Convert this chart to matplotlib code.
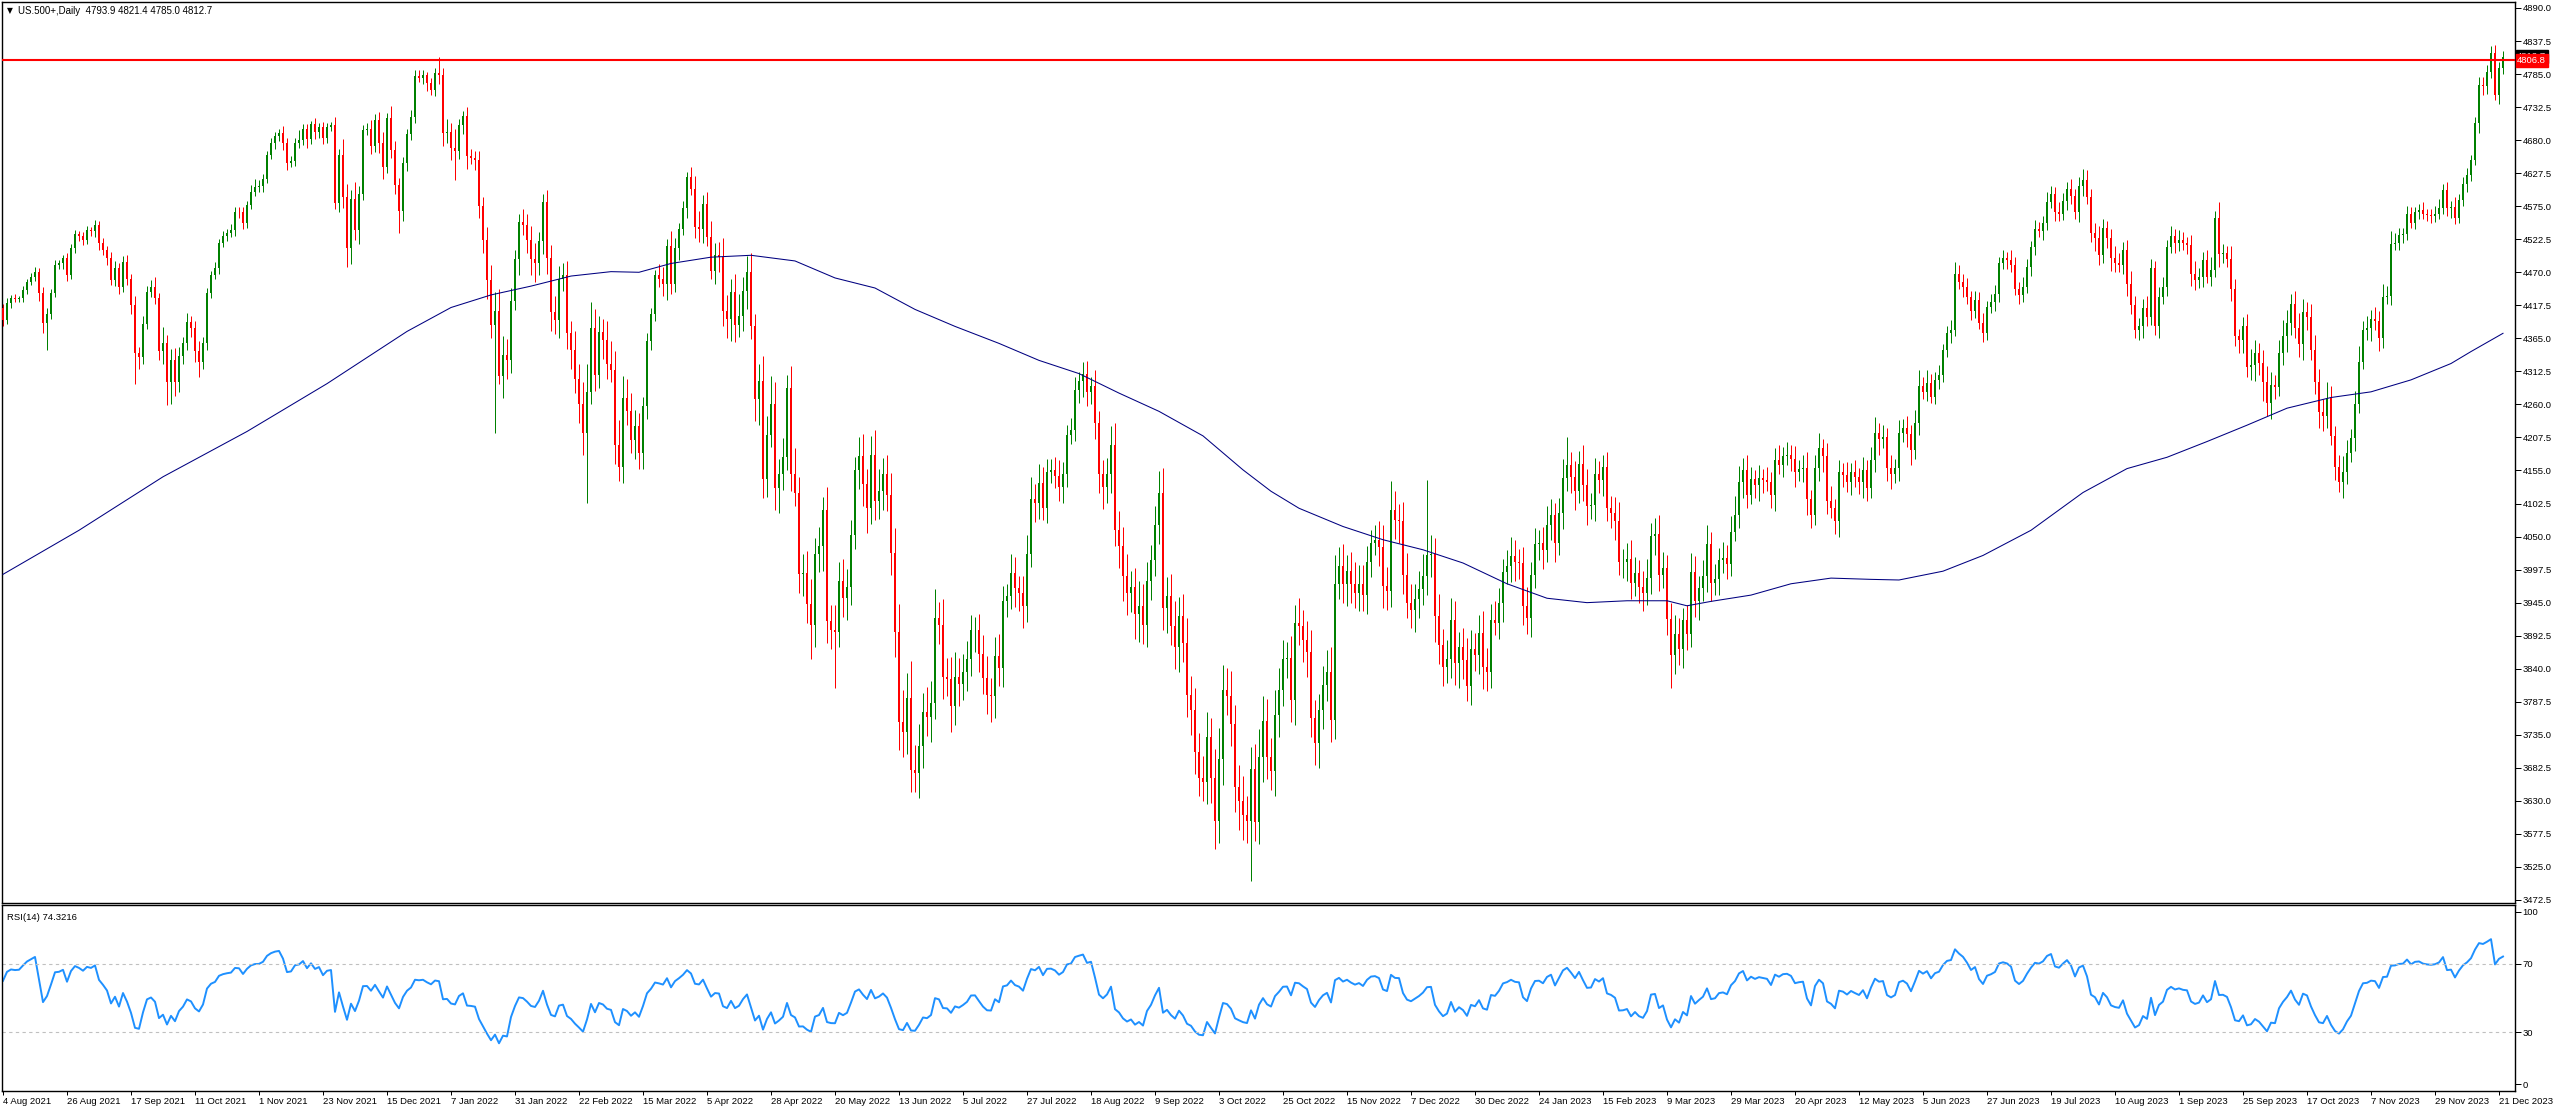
import numpy as np
import matplotlib.pyplot as plt
import matplotlib.transforms as mtrans

plt.rcParams['font.family'] = ['Liberation Sans', 'DejaVu Sans']

# daily closes, one per bar (4 Aug 2021 .. 22 Dec 2023)
closes = [
    4394, 4421, 4429, 4428, 4429, 4442, 4455, 4463, 4471, 4437, 4389, 4404, 4437, 4482, 4484, 4492, 4466, 4508, 4531, 4527,
    4521, 4537, 4535, 4545, 4516, 4505, 4492, 4458, 4476, 4447, 4487, 4460, 4418, 4342, 4336, 4388, 4439, 4447, 4429, 4345,
    4358, 4296, 4330, 4295, 4337, 4357, 4391, 4381, 4345, 4328, 4357, 4437, 4466, 4477, 4516, 4527, 4533, 4537, 4566, 4565,
    4548, 4577, 4598, 4606, 4607, 4619, 4656, 4675, 4686, 4691, 4675, 4644, 4647, 4676, 4680, 4697, 4682, 4705, 4693, 4701,
    4684, 4701, 4704, 4580, 4656, 4590, 4508, 4586, 4537, 4595, 4696, 4697, 4670, 4712, 4675, 4638, 4715, 4664, 4608, 4567,
    4643, 4690, 4716, 4782, 4779, 4783, 4770, 4760, 4786, 4783, 4691, 4693, 4667, 4662, 4704, 4718, 4654, 4652, 4648, 4575,
    4522, 4457, 4386, 4409, 4305, 4339, 4330, 4425, 4491, 4550, 4545, 4521, 4491, 4484, 4519, 4582, 4492, 4407, 4394, 4460,
    4466, 4373, 4346, 4300, 4260, 4214, 4280, 4382, 4306, 4375, 4362, 4325, 4315, 4195, 4160, 4270, 4250, 4203, 4226, 4183,
    4257, 4361, 4403, 4465, 4459, 4451, 4511, 4451, 4509, 4538, 4572, 4622, 4603, 4542, 4538, 4578, 4526, 4472, 4498, 4495,
    4409, 4395, 4439, 4387, 4401, 4441, 4471, 4384, 4268, 4297, 4141, 4212, 4260, 4127, 4149, 4176, 4286, 4150, 4120, 3991,
    3992, 3943, 3910, 4023, 4035, 4093, 3916, 3901, 3899, 3979, 3952, 3970, 4052, 4156, 4178, 4133, 4095, 4180, 4106, 4122,
    4150, 4116, 4024, 3898, 3756, 3740, 3793, 3679, 3675, 3717, 3771, 3763, 3785, 3921, 3910, 3827, 3824, 3780, 3827, 3816,
    3834, 3856, 3901, 3902, 3864, 3825, 3798, 3796, 3860, 3841, 3947, 3955, 3992, 3968, 3960, 3939, 4022, 4109, 4103, 4135,
    4096, 4153, 4155, 4147, 4129, 4149, 4212, 4220, 4283, 4297, 4309, 4280, 4289, 4230, 4149, 4129, 4150, 4196, 4060, 4035,
    3987, 3960, 3970, 3927, 3939, 3910, 3979, 4012, 4068, 4119, 3937, 3956, 3908, 3875, 3924, 3881, 3798, 3775, 3708, 3667,
    3660, 3731, 3667, 3598, 3696, 3806, 3796, 3752, 3652, 3629, 3608, 3598, 3680, 3596, 3700, 3757, 3700, 3678, 3766, 3806,
    3855, 3857, 3791, 3912, 3908, 3886, 3867, 3761, 3722, 3775, 3814, 3834, 3759, 3975, 4003, 3975, 3995, 3975, 3961, 3975,
    3957, 4010, 4040, 4044, 4034, 3972, 3963, 4093, 4076, 4075, 3989, 3945, 3934, 3950, 3966, 3987, 4021, 4023, 3923, 3878,
    3842, 3855, 3917, 3849, 3874, 3854, 3812, 3871, 3862, 3896, 3843, 3834, 3918, 3913, 3944, 3994, 4003, 4019, 4010, 4008,
    3940, 3920, 3989, 4038, 4040, 4029, 4069, 4084, 4040, 4087, 4143, 4164, 4145, 4123, 4166, 4132, 4098, 4100, 4150, 4140,
    4160, 4095, 4088, 4075, 4009, 4010, 4015, 3976, 3992, 3970, 3961, 3984, 4051, 4054, 3989, 4000, 3919, 3862, 3895, 3871,
    3917, 3895, 3994, 3947, 3968, 3987, 4038, 3977, 3982, 4012, 4016, 4007, 4058, 4084, 4137, 4155, 4116, 4141, 4132, 4143,
    4140, 4137, 4116, 4171, 4164, 4178, 4180, 4174, 4153, 4157, 4159, 4109, 4084, 4159, 4190, 4178, 4106, 4095, 4074, 4152,
    4148, 4136, 4152, 4144, 4137, 4156, 4127, 4172, 4215, 4205, 4208, 4159, 4150, 4159, 4215, 4222, 4213, 4188, 4231, 4289,
    4280, 4294, 4272, 4299, 4307, 4346, 4373, 4379, 4467, 4455, 4446, 4430, 4409, 4426, 4390, 4374, 4415, 4423, 4435, 4485,
    4493, 4490, 4482, 4444, 4434, 4447, 4479, 4510, 4538, 4536, 4549, 4582, 4595, 4566, 4563, 4584, 4603, 4591, 4565, 4607,
    4617, 4590, 4533, 4524, 4497, 4540, 4524, 4492, 4485, 4482, 4506, 4452, 4418, 4378, 4385, 4413, 4399, 4476, 4385, 4431,
    4447, 4510, 4528, 4516, 4522, 4516, 4514, 4468, 4457, 4462, 4490, 4463, 4474, 4557, 4499, 4500, 4491, 4444, 4368, 4362,
    4384, 4319, 4323, 4342, 4326, 4296, 4262, 4291, 4288, 4342, 4369, 4390, 4420, 4381, 4356, 4407, 4399, 4346, 4296, 4248,
    4242, 4270, 4210, 4160, 4137, 4153, 4183, 4206, 4261, 4328, 4378, 4381, 4395, 4393, 4365, 4431, 4433, 4515, 4517, 4529,
    4531, 4563, 4548, 4566, 4569, 4563, 4561, 4560, 4563, 4572, 4601, 4572, 4574, 4556, 4585, 4610, 4625, 4648, 4707, 4768,
    4766, 4789, 4818, 4752, 4793.9, 4812.7,
]
first_open = 4413

# upper / lower shadow length beyond the body, in points
wick_hi = [
    6, 8, 5, 7, 4, 6, 5, 6, 8, 5, 10, 9, 6, 7, 5, 6, 8, 7, 6, 5,
    7, 6, 5, 8, 6, 9, 7, 10, 12, 8, 9, 11, 8, 14, 10, 12, 9, 10, 15, 8,
    25, 12, 18, 20, 15, 10, 14, 9, 12, 16, 10, 8, 6, 9, 7, 8, 6, 10, 7, 8,
    8, 6, 10, 12, 9, 7, 6, 8, 7, 6, 12, 9, 8, 7, 16, 8, 9, 6, 10, 7,
    8, 6, 5, 12, 10, 25, 20, 15, 28, 12, 8, 10, 15, 9, 12, 18, 8, 20, 15, 12,
    10, 8, 12, 9, 10, 8, 6, 9, 8, 26, 12, 20, 15, 30, 10, 9, 15, 12, 10, 14,
    15, 20, 25, 30, 35, 30, 25, 20, 15, 12, 20, 18, 22, 25, 15, 12, 18, 22, 25, 20,
    18, 22, 20, 30, 25, 35, 45, 40, 30, 25, 20, 30, 35, 30, 40, 35, 30, 28, 25, 20,
    15, 12, 10, 8, 18, 20, 12, 25, 15, 10, 12, 8, 15, 20, 25, 15, 20, 25, 18, 20,
    30, 25, 20, 28, 35, 22, 25, 30, 20, 28, 40, 30, 45, 35, 25, 30, 20, 35, 40, 25,
    30, 35, 40, 25, 30, 20, 35, 25, 40, 30, 35, 28, 25, 20, 30, 35, 25, 30, 40, 35,
    25, 30, 35, 40, 45, 50, 40, 60, 40, 35, 30, 40, 35, 45, 25, 40, 30, 35, 40, 30,
    30, 28, 25, 20, 25, 30, 35, 28, 30, 35, 25, 20, 30, 25, 20, 28, 30, 35, 25, 30,
    25, 20, 18, 22, 25, 20, 15, 18, 20, 15, 18, 20, 15, 25, 20, 22, 25, 30, 35, 30,
    30, 35, 25, 30, 40, 35, 30, 25, 30, 35, 40, 30, 35, 40, 30, 35, 40, 30, 35, 30,
    35, 40, 30, 45, 50, 40, 35, 40, 30, 35, 40, 30, 35, 40, 45, 40, 35, 30, 40, 35,
    30, 25, 35, 30, 40, 25, 30, 35, 30, 25, 30, 35, 40, 45, 30, 35, 25, 30, 35, 30,
    30, 25, 20, 25, 30, 35, 30, 45, 30, 25, 30, 35, 30, 25, 30, 35, 119, 30, 25, 35,
    25, 30, 35, 30, 25, 30, 35, 30, 25, 30, 35, 30, 25, 30, 25, 20, 25, 30, 25, 20,
    25, 30, 20, 25, 20, 25, 30, 25, 20, 25, 30, 45, 20, 25, 20, 30, 25, 20, 25, 20,
    20, 25, 20, 25, 30, 20, 25, 30, 25, 20, 25, 30, 20, 25, 30, 25, 20, 25, 30, 25,
    20, 25, 30, 25, 20, 25, 30, 20, 25, 20, 25, 20, 25, 30, 25, 20, 25, 20, 15, 20,
    15, 20, 15, 20, 25, 15, 20, 15, 20, 15, 20, 25, 15, 20, 25, 15, 20, 25, 15, 20,
    15, 20, 15, 20, 15, 20, 15, 20, 25, 15, 20, 15, 20, 15, 20, 15, 20, 15, 20, 25,
    15, 20, 15, 12, 15, 10, 12, 15, 20, 15, 12, 15, 10, 15, 12, 15, 10, 12, 15, 10,
    12, 10, 15, 12, 10, 15, 12, 10, 15, 12, 10, 15, 12, 10, 15, 12, 10, 15, 12, 15,
    17, 15, 12, 15, 20, 15, 12, 15, 20, 15, 12, 15, 20, 15, 12, 15, 20, 15, 12, 15,
    15, 12, 15, 10, 15, 12, 10, 15, 20, 15, 12, 15, 20, 10, 25, 15, 12, 20, 15, 12,
    15, 20, 25, 20, 15, 20, 25, 20, 15, 20, 25, 20, 15, 20, 25, 20, 15, 20, 25, 20,
    20, 25, 20, 15, 20, 25, 20, 15, 20, 25, 15, 20, 15, 20, 15, 20, 15, 20, 15, 12,
    10, 12, 10, 8, 10, 12, 8, 10, 12, 15, 10, 12, 10, 15, 10, 12, 10, 8, 10, 12,
    12, 10, 12, 13, 10, 8.7,
]
wick_lo = [
    9, 6, 8, 5, 6, 7, 6, 5, 7, 12, 15, 43, 8, 6, 7, 9, 10, 6, 8, 7,
    8, 6, 7, 9, 10, 8, 11, 9, 10, 12, 8, 10, 15, 49, 20, 12, 8, 9, 10, 14,
    20, 37, 35, 22, 15, 12, 10, 14, 18, 25, 12, 10, 8, 7, 9, 6, 8, 7, 9, 8,
    10, 8, 7, 6, 8, 9, 7, 6, 9, 8, 10, 12, 7, 8, 9, 7, 14, 8, 11, 9,
    10, 8, 7, 9, 15, 18, 30, 25, 15, 22, 10, 8, 12, 9, 15, 20, 10, 12, 14, 35,
    15, 12, 10, 8, 6, 10, 12, 8, 10, 14, 20, 15, 18, 45, 12, 14, 20, 10, 15, 18,
    22, 30, 20, 172, 12, 35, 30, 20, 15, 25, 15, 20, 25, 30, 18, 20, 25, 30, 22, 28,
    20, 25, 30, 22, 30, 35, 111, 20, 25, 20, 30, 25, 20, 30, 21, 25, 22, 20, 30, 25,
    25, 20, 15, 10, 12, 18, 25, 15, 12, 20, 8, 15, 10, 18, 20, 22, 15, 12, 20, 25,
    25, 30, 35, 28, 20, 25, 30, 20, 35, 40, 30, 28, 20, 35, 40, 25, 20, 28, 22, 30,
    35, 30, 54, 35, 30, 40, 35, 30, 89, 25, 30, 35, 28, 22, 30, 35, 40, 25, 30, 28,
    30, 25, 35, 40, 45, 40, 35, 35, 31, 40, 35, 30, 40, 25, 30, 35, 28, 40, 30, 35,
    25, 30, 28, 35, 30, 25, 30, 40, 35, 28, 30, 25, 20, 30, 28, 35, 25, 20, 30, 25,
    20, 25, 18, 20, 22, 25, 20, 15, 18, 20, 25, 22, 20, 25, 30, 35, 25, 30, 25, 35,
    40, 35, 30, 40, 45, 30, 35, 30, 25, 30, 35, 40, 30, 35, 40, 30, 35, 40, 35, 30,
    30, 35, 40, 45, 35, 40, 30, 35, 40, 45, 40, 35, 95, 30, 35, 40, 35, 30, 40, 35,
    25, 30, 35, 40, 30, 35, 40, 30, 35, 40, 30, 25, 35, 30, 25, 30, 35, 30, 25, 30,
    25, 30, 25, 20, 30, 35, 30, 25, 30, 35, 30, 25, 30, 35, 30, 25, 30, 35, 40, 30,
    30, 25, 30, 35, 40, 30, 23, 30, 25, 30, 35, 30, 25, 20, 25, 30, 20, 25, 30, 25,
    30, 25, 30, 20, 25, 30, 20, 25, 30, 20, 25, 20, 25, 30, 20, 25, 30, 20, 25, 20,
    25, 20, 25, 30, 20, 25, 30, 25, 20, 25, 30, 20, 25, 30, 25, 20, 25, 53, 30, 25,
    30, 25, 20, 25, 30, 20, 25, 30, 20, 25, 20, 25, 20, 15, 20, 25, 20, 15, 20, 25,
    20, 15, 20, 25, 15, 20, 15, 20, 25, 15, 20, 25, 20, 15, 20, 25, 20, 15, 20, 25,
    20, 15, 20, 15, 20, 25, 20, 15, 20, 25, 15, 20, 25, 15, 20, 15, 20, 25, 15, 20,
    12, 15, 10, 12, 15, 12, 10, 15, 10, 12, 15, 10, 15, 12, 10, 15, 12, 10, 15, 12,
    10, 15, 12, 10, 15, 12, 10, 15, 12, 10, 15, 12, 10, 15, 12, 10, 15, 12, 10, 15,
    15, 12, 15, 20, 15, 12, 15, 20, 15, 12, 15, 20, 15, 12, 15, 20, 15, 12, 15, 20,
    12, 15, 10, 15, 12, 10, 15, 20, 15, 12, 15, 10, 15, 12, 20, 15, 12, 20, 15, 20,
    20, 15, 20, 25, 20, 30, 20, 25, 20, 15, 20, 25, 20, 15, 20, 25, 20, 15, 20, 25,
    25, 20, 15, 20, 16, 25, 20, 15, 20, 15, 12, 15, 20, 15, 20, 15, 12, 15, 10, 12,
    12, 10, 8, 10, 12, 8, 10, 12, 10, 8, 10, 12, 15, 10, 8, 10, 12, 10, 8, 15,
    15, 12, 10, 9, 15, 8.9,
]

# 200-bar moving average, sampled along the line
ma_bars = [0, 19, 40, 61, 81, 101, 112, 122, 132, 142, 152, 159, 167, 177, 187, 198, 208, 218, 228, 238,
           249, 259, 269, 279, 289, 300, 310, 317, 324, 335, 345, 355, 365, 376, 386, 396, 406, 416, 421, 427,
           437, 447, 457, 467, 474, 485, 495, 507, 520, 531, 541, 551, 561, 571, 582, 592, 602, 612, 617, 625]
ma_vals = [3990, 4060, 4145, 4217, 4293, 4376, 4414, 4434, 4448, 4464, 4471, 4470, 4484, 4494, 4497, 4488, 4461, 4445, 4411, 4384,
           4357, 4330, 4309, 4278, 4249, 4210, 4156, 4122, 4095, 4066, 4045, 4029, 4008, 3975, 3952, 3945, 3948, 3948, 3940, 3947,
           3957, 3975, 3984, 3982, 3981, 3995, 4020, 4060, 4120, 4158, 4176, 4201, 4227, 4254, 4271, 4280, 4299, 4325, 4344, 4373]

date_labels = ["4 Aug 2021", "26 Aug 2021", "17 Sep 2021", "11 Oct 2021", "1 Nov 2021", "23 Nov 2021", "15 Dec 2021",
               "7 Jan 2022", "31 Jan 2022", "22 Feb 2022", "15 Mar 2022", "5 Apr 2022", "28 Apr 2022", "20 May 2022",
               "13 Jun 2022", "5 Jul 2022", "27 Jul 2022", "18 Aug 2022", "9 Sep 2022", "3 Oct 2022", "25 Oct 2022",
               "15 Nov 2022", "7 Dec 2022", "30 Dec 2022", "24 Jan 2023", "15 Feb 2023", "9 Mar 2023", "29 Mar 2023",
               "20 Apr 2023", "12 May 2023", "5 Jun 2023", "27 Jun 2023", "19 Jul 2023", "10 Aug 2023", "1 Sep 2023",
               "25 Sep 2023", "17 Oct 2023", "7 Nov 2023", "29 Nov 2023", "21 Dec 2023"]

level = 4806.8
header = "US.500+,Daily  4793.9 4821.4 4785.0 4812.7"
rsi_label = "RSI(14) 74.3216"
rsi_seed = (9.0, 6.0)

# ---- derived
c = np.array(closes, dtype=float)
n = len(c)
assert len(wick_hi) == n and len(wick_lo) == n, (n, len(wick_hi), len(wick_lo))
o = np.r_[first_open, c[:-1]]
x = np.arange(n)
top = np.maximum(o, c)
bot = np.minimum(o, c)
hi = top + np.array(wick_hi)
lo = bot - np.array(wick_lo)
up = c >= o


def rsi(vals, period=14, seed=(9.0, 6.0)):
    ag, al = seed
    out = []
    prev = vals[0]
    for v in vals:
        d = v - prev
        prev = v
        ag = (ag * (period - 1) + max(d, 0)) / period
        al = (al * (period - 1) + max(-d, 0)) / period
        out.append(100 - 100 / (1 + ag / al))
    return np.array(out)


r = rsi(c, 14, rsi_seed)

W, H = 2556, 1112
fig = plt.figure(figsize=(W / 100, H / 100), dpi=100)
fig.patch.set_facecolor('white')

ax = fig.add_axes([2 / W, 1 - 903 / H, 2513 / W, 901 / H])
ax2 = fig.add_axes([2 / W, 1 - 1091 / H, 2513 / W, 186 / H])

green, red = '#008000', '#ff0000'
cols = np.where(up, green, red)
px = 0.72

ax.vlines(x, lo, hi, colors=cols, lw=px, zorder=2)
ax.bar(x, np.maximum(top - bot, 1.3), bottom=bot, width=0.72, color=cols, lw=0, zorder=3)
ax.plot(ma_bars, ma_vals, color='#000080', lw=0.75, zorder=4)
ax.axhline(level, color=red, lw=1.5, zorder=5)

ax.set_xlim(-0.25, 628)
ax.set_ylim(3467.7, 4899.5)
ax.yaxis.tick_right()
yt = np.arange(3472.5, 4891, 52.5)
ax.set_yticks(yt)
ax.set_yticklabels([f'{v:.1f}' for v in yt])
ax.tick_params(axis='y', direction='out', length=4, width=px, pad=1.5, labelsize=6.8, colors='black')
ax.tick_params(axis='x', bottom=False, labelbottom=False)

tr = mtrans.blended_transform_factory(ax.transAxes, ax.transData)
ax.text(1.0009, c[-1], f'{c[-1]:.1f}', transform=tr, color='white', fontsize=6.8, va='center', ha='left',
        bbox=dict(boxstyle='square,pad=0.18', fc='black', ec='black'), clip_on=False, zorder=6)
ax.text(1.0009, level, f'{level:.1f}', transform=tr, color='white', fontsize=6.8, va='center', ha='left',
        bbox=dict(boxstyle='square,pad=0.18', fc=red, ec=red), clip_on=False, zorder=7)

# RSI pane
ax2.plot(x, r, color='#1e90ff', lw=1.4)
ax2.axhline(70, color='#c0c0c0', lw=0.8, ls=(0, (3, 3)))
ax2.axhline(30, color='#c0c0c0', lw=0.8, ls=(0, (3, 3)))
ax2.set_xlim(-0.25, 628)
ax2.set_ylim(-4, 104)
ax2.yaxis.tick_right()
ax2.set_yticks([0, 30, 70, 100])
ax2.set_yticklabels(['0', '30', '70', '100'])
ax2.tick_params(axis='y', direction='out', length=4, width=px, pad=1.5, labelsize=6.8)
ax2.set_xticks(np.arange(0, 16 * len(date_labels), 16))
ax2.set_xticklabels(date_labels, ha='left')
ax2.tick_params(axis='x', direction='out', length=3, width=px, pad=1, labelsize=6.8)
ax2.text(0.002, 0.955, rsi_label, transform=ax2.transAxes, fontsize=6.8, va='top', ha='left')

for a in (ax, ax2):
    for s in a.spines.values():
        s.set_linewidth(px * 1.4)
        s.set_color('black')

fig.text(7 / W, 1 - 11 / H, '\u25bc', fontsize=5.5, va='center', ha='left', family=['DejaVu Sans'])
fig.text(18 / W, 1 - 11 / H, header, fontsize=7, va='center', ha='left')

fig.savefig('out.png', dpi=100)
